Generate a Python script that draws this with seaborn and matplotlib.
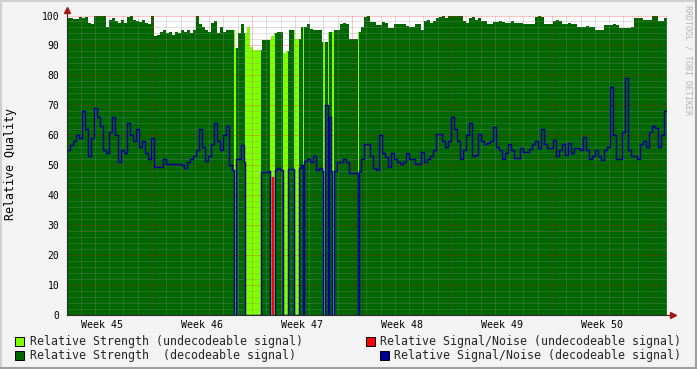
import numpy as np
import matplotlib
matplotlib.use("Agg")
import matplotlib.pyplot as plt
import matplotlib.transforms as mtransforms
from matplotlib.lines import Line2D
from matplotlib.patches import Rectangle
import seaborn as sns

# ------------------------------------------------------------------ data
sample_step_days = 0.21          # one consolidated sample every ~5 hours
first_week_end = 5.95            # day offset at which week 46 begins
week_numbers = [45, 46, 47, 48, 49, 50]

# Relative strength (top of the green area), one value per sample
strength = [
    99.2, 99.2, 98.7, 98.7, 99.5, 99.0, 99.6, 97.5, 97.3, 100,
    100, 100, 100, 96, 98.5, 99, 98, 97.5, 98.5, 97.5,
    99.5, 99.8, 98.5, 98, 97.8, 98.5, 97.5, 97, 100, 93,
    93.4, 94.5, 95, 94, 94.5, 93.5, 94.5, 94, 95, 94.5,
    95, 94, 95, 100, 97, 96, 95, 94.5, 97.5, 98,
    94, 96.2, 94.5, 95, 95, 95, 89, 94, 97, 94,
    96, 89.6, 88.5, 88.5, 88.5, 91.8, 91.8, 91.8, 93, 94,
    94.5, 94.5, 87.5, 88, 95, 95, 92, 92, 96, 96,
    97, 95.5, 95, 95, 95, 91, 91, 94.5, 94.5, 95,
    95, 97, 97.5, 97, 92, 92, 92, 94.5, 96, 99.5,
    100, 97.9, 97.9, 96.8, 96.8, 97.9, 97.5, 95.7, 95.7, 97.1,
    97.1, 97.1, 97.1, 96.5, 96.2, 96.2, 97, 97, 95.1, 98,
    98.5, 97.5, 98, 99, 99.5, 100, 99, 100, 100, 100,
    100, 100, 98, 97.5, 99, 99.5, 98.5, 99, 98, 98,
    97.3, 97.3, 97.9, 97.9, 98.2, 97.9, 97.6, 97.6, 98, 97.6,
    97.6, 97.6, 97, 97, 97, 97, 99.5, 99.8, 99.5, 97,
    97, 97, 98.3, 98.5, 98.3, 97, 97, 97.5, 97, 97,
    96.2, 96.2, 96.2, 96.5, 96.2, 96.2, 95.3, 95.3, 95.3, 96.8,
    96.8, 96.8, 97, 96.8, 95.7, 95.7, 95.7, 95.7, 96, 99,
    99, 99, 98.4, 98.4, 98.4, 100, 100, 98, 98, 99,
]

# Relative signal/noise (decodeable), one value per sample
snr = [
    55, 56.7, 58, 60, 59, 68, 62, 53, 59, 69,
    66, 63, 55, 54, 61, 66, 60, 51, 55, 54,
    64, 60, 58, 62, 56, 58, 54, 52, 59, 49.5,
    49.4, 49.5, 52, 50.5, 50.5, 50.5, 50.5, 50.5, 50, 49,
    51, 52, 53, 55, 62, 56, 51.5, 53, 57, 64,
    58, 55, 60, 63, 50, 48.5, 52, 52, 56.7, 51,
    0, 0, 0, 0, 47.8, 47.8, 47.8, 48, 48.5, 48.5,
    49, 48.5, 0, 48.9, 48.9, 48.9, 0, 49, 50, 51.5,
    52, 51, 53, 48.5, 49, 48, 70, 66, 48, 48,
    51, 51, 52, 51, 47.5, 47.5, 47.5, 48, 52, 57,
    57, 53, 49, 48.5, 60, 54, 52.8, 49.4, 54, 52,
    51, 50.5, 51, 54, 52, 52, 50.5, 50.5, 54.5, 51,
    52, 53, 55, 60.6, 60.6, 58, 56, 58, 66, 62,
    58, 52, 55, 60, 64, 53, 53.3, 60.6, 58, 57,
    57.5, 58, 62.8, 56, 55, 52, 54, 57, 55, 52.5,
    52.5, 55.6, 54.5, 54.5, 55.3, 57, 58, 55.6, 62, 57,
    55.6, 55.6, 58.3, 53, 55, 57, 53.5, 57.5, 54, 55.6,
    55.6, 55, 59.5, 55, 52, 53, 55, 53, 51.7, 55,
    56, 76, 60, 52.2, 52.2, 61, 79, 55, 53, 53,
    52, 57, 58, 56, 61, 63, 62.5, 56, 60, 68,
]

# periods in which the signal was not decodeable (days from start)
undecodeable_start = [11.725, 12.46, 14.175, 15.12, 15.89, 16.485, 17.92, 18.27, 18.55, 20.335]
undecodeable_end = [11.83, 13.58, 14.56, 15.47, 16.24, 16.555, 18.06, 18.34, 18.655, 20.405]

# signal/noise while undecodeable (only one visible reading)
snr_undec_start = [14.35]
snr_undec_end = [14.434]
snr_undec_value = [46]

# ------------------------------------------------------------------ style
sns.set_style("white")
plt.rcParams["font.family"] = ["DejaVu Sans Mono", "DejaVu Sans"]

C_DARK = "#006600"
C_LIGHT = "#7FFF00"
C_BLUE = "#000099"
C_RED = "#FF0000"
C_AXIS = "#2C2C2C"
C_ARROW = "#A01818"

W, H = 697, 369
fig = plt.figure(figsize=(W / 100, H / 100), dpi=100, facecolor="#F3F3F3")
ax = fig.add_axes([67 / W, 1 - 315 / H, 600 / W, 299.5 / H])
ax.set_facecolor("white")

# ------------------------------------------------------------------ step series
n = len(strength)
cell_edges = np.arange(n + 1) * sample_step_days
edges = np.unique(np.round(np.concatenate([cell_edges, undecodeable_start, undecodeable_end]), 6))
mids = (edges[:-1] + edges[1:]) / 2
cell = np.minimum((mids // sample_step_days).astype(int), n - 1)
undec = np.zeros(len(mids), dtype=bool)
for s, e in zip(undecodeable_start, undecodeable_end):
    undec |= (mids >= s) & (mids < e)

st = np.asarray(strength, dtype=float)[cell]
sn = np.asarray(snr, dtype=float)[cell]
dark = np.where(undec, 0.0, st)
light = np.where(undec, st, 0.0)
blue = np.where(undec, 0.0, sn)

def ext(v):
    return np.append(v, v[-1])

ax.fill_between(edges, ext(light), step="post", color=C_LIGHT, lw=0, zorder=1)
ax.fill_between(edges, ext(dark), step="post", color=C_DARK, lw=0, zorder=1.1)

sns.lineplot(x=edges, y=ext(blue), drawstyle="steps-post", estimator=None, sort=False,
             color=C_BLUE, lw=1.05, ax=ax, zorder=3)

for s, e, v in zip(snr_undec_start, snr_undec_end, snr_undec_value):
    ax.plot([s, s, e, e], [0, v, v, 0], color=C_RED, lw=1.0, zorder=3.1)

# ------------------------------------------------------------------ axes / grid
ax.set_xlim(0, n * sample_step_days)
ax.set_ylim(0, 100)

week_bounds = [first_week_end + 7 * k for k in range(len(week_numbers))]
day_ticks = np.arange(first_week_end - 5, n * sample_step_days, 1.0)
ax.set_xticks(week_bounds)
ax.set_xticks(day_ticks, minor=True)
ax.set_xticklabels([])
ax.set_yticks(range(0, 101, 10))
ax.set_yticks(range(0, 101, 2), minor=True)

ax.set_axisbelow(False)
ax.grid(which="major", color="#FF0000", alpha=0.45, linestyle=(0, (1, 1)), linewidth=0.72)
ax.grid(which="minor", color="#8F8F8F", alpha=0.55, linestyle=(0, (1, 1)), linewidth=0.72)

for side in ("top", "right"):
    ax.spines[side].set_visible(False)
for side in ("left", "bottom"):
    ax.spines[side].set_color(C_AXIS)
    ax.spines[side].set_linewidth(0.8)
    ax.spines[side].set_zorder(4)

ax.tick_params(axis="x", which="major", length=2.5, color="#E06060", width=0.8)
ax.tick_params(axis="x", which="minor", length=1.8, color="#909090", width=0.8)
ax.tick_params(axis="y", which="major", length=2, color="#E06060", width=0.8,
               labelsize=7, pad=3.5, labelcolor="black")
ax.tick_params(axis="y", which="minor", length=0)

blend = mtransforms.blended_transform_factory(ax.transData, ax.transAxes)
for k, wk in enumerate(week_numbers):
    ax.text(week_bounds[k] - 3.5, -0.016, f"Week {wk}", transform=blend,
            ha="center", va="top", fontsize=7.2, color="black")

# axis extensions and arrows
ax.plot([0, 0], [1, 1 + 6 / 299.5], transform=ax.transAxes, clip_on=False,
        color=C_AXIS, lw=0.8, zorder=4)
ax.plot([1, 1 + 6 / 600], [0, 0], transform=ax.transAxes, clip_on=False,
        color=C_AXIS, lw=0.8, zorder=4)
ax.plot([0], [1 + 6 / 299.5], marker="^", ms=3.8, color=C_ARROW, mec=C_ARROW,
        transform=ax.transAxes, clip_on=False, zorder=5)
ax.plot([1 + 6 / 600], [0], marker=">", ms=3.8, color=C_ARROW, mec=C_ARROW,
        transform=ax.transAxes, clip_on=False, zorder=5)

# y label
fig.text(11 / W, 1 - 164 / H, "Relative Quality", rotation=90, ha="center",
         va="center", fontsize=8.4, color="black")

# credit text
fig.text(688 / W, 1 - 5 / H, "RRDTOOL / TOBI OETIKER", rotation=270, ha="center",
         va="top", fontsize=6.0, color="#B4B4B4")

# ------------------------------------------------------------------ legend
def px(x, y):
    return x / W, 1 - y / H

def swatch(x, y, color):
    fig.add_artist(Rectangle(px(x, y + 9), 9 / W, 9 / H, transform=fig.transFigure,
                             facecolor=color, edgecolor="black", lw=0.7))

swatch(15, 336.5, C_LIGHT)
fig.text(*px(30, 341.5), "Relative Strength (undecodeable signal)", ha="left",
         va="center", fontsize=8.4)
swatch(366, 336.5, C_RED)
fig.text(*px(681, 341.5), "Relative Signal/Noise (undecodeable signal)", ha="right",
         va="center", fontsize=8.4)
swatch(15, 350.5, C_DARK)
fig.text(*px(30, 355.5), "Relative Strength  (decodeable signal)", ha="left",
         va="center", fontsize=8.4)
swatch(380, 350.5, C_BLUE)
fig.text(*px(681, 355.5), "Relative Signal/Noise (decodeable signal)", ha="right",
         va="center", fontsize=8.4)

# frame shading
fig.add_artist(Line2D([0, 1], [1 - 1 / H] * 2, transform=fig.transFigure, color="#CFCFCF", lw=1.5))
fig.add_artist(Line2D([1 / W] * 2, [0, 1], transform=fig.transFigure, color="#CFCFCF", lw=1.5))
fig.add_artist(Line2D([0, 1], [1 / H] * 2, transform=fig.transFigure, color="#9E9E9E", lw=1.5))
fig.add_artist(Line2D([1 - 1 / W] * 2, [0, 1], transform=fig.transFigure, color="#9E9E9E", lw=1.5))

fig.savefig("out.png", dpi=100, facecolor=fig.get_facecolor())
